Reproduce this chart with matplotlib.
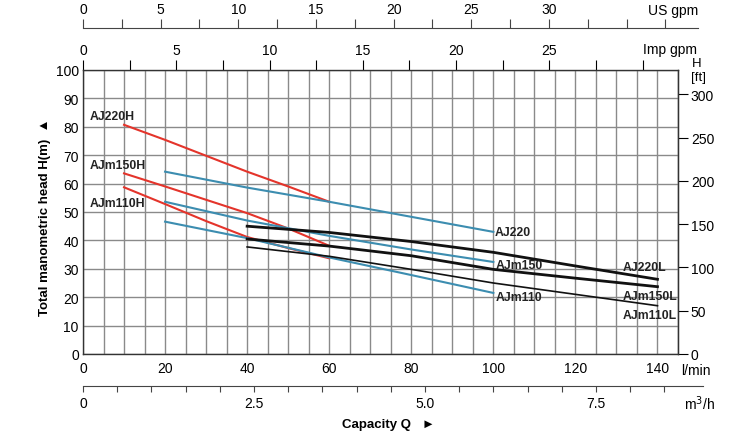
import numpy as np
import matplotlib
matplotlib.use("Agg")
import matplotlib.pyplot as plt
from matplotlib.ticker import FuncFormatter

plt.rcParams['font.family'] = ['Liberation Sans', 'DejaVu Sans']

## Curve data: capacity Q (l/min) and head H (m)
q_h = [10, 20, 30, 40, 50, 60]
aj220h = [80.7, 75.4, 69.8, 64.2, 59.0, 53.6]
ajm150h = [63.6, 59.0, 54.3, 49.6, 44.2, 38.1]
ajm110h = [58.7, 52.8, 46.8, 41.2, 37.3, 33.7]

q_mid = [20, 40, 60, 80, 100]
aj220 = [64.2, 58.6, 53.6, 48.3, 43.0]
ajm150 = [53.6, 47.0, 41.6, 36.8, 32.4]
ajm110 = [46.6, 40.8, 34.0, 27.8, 21.5]

q_l = [40, 60, 80, 100, 120, 140]
aj220l = [45.0, 42.8, 39.6, 35.8, 31.0, 26.3]
ajm150l = [40.5, 38.0, 34.6, 29.8, 26.7, 23.7]
ajm110l = [37.7, 34.4, 29.8, 25.0, 21.0, 17.0]

h_ticks = list(range(0, 101, 10))
q_labels = list(range(0, 141, 20))
ft_ticks = [0, 50, 100, 150, 200, 250, 300]
us_labels = [0, 5, 10, 15, 20, 25, 30]
imp_labels = [0, 5, 10, 15, 20, 25]
m3_labels = ["0", "2.5", "5.0", "7.5"]

RED = "#e4342b"
BLUE = "#3c8db0"
GRID = "#8a8a8a"

W, H = 738, 439
fig = plt.figure(figsize=(W / 100, H / 100), dpi=100)
PT = 72 / 100  # pixels -> points

def fx(px):
    return px / W

def fy(py):
    return 1 - py / H

## main axes: 0..145 l/min, 0..100 m
x0, x1, y0, y1 = 83, 678, 355, 71
ax = fig.add_axes([fx(x0), fy(y0), fx(x1 - x0), (y0 - y1) / H])
ax.set_xlim(0, 145)
ax.set_ylim(0, 100)
ax.set_xticks(np.arange(0, 146, 5))
ax.set_yticks(h_ticks)
ax.xaxis.set_major_formatter(FuncFormatter(lambda v, p: f"{int(v)}" if int(round(v)) in q_labels else ""))
ax.tick_params(axis='both', length=0, labelsize=10, pad=3)
ax.tick_params(axis='x', pad=5)
ax.grid(True, color=GRID, linewidth=1)
for s in ax.spines.values():
    s.set_color("#333333")
    s.set_linewidth(1)

## curves
ax.plot(q_h, aj220h, color=RED, lw=1.5)
ax.plot(q_h, ajm150h, color=RED, lw=1.5)
ax.plot(q_h, ajm110h, color=RED, lw=1.5)
ax.plot(q_mid, aj220, color=BLUE, lw=1.5)
ax.plot(q_mid, ajm150, color=BLUE, lw=1.5)
ax.plot(q_mid, ajm110, color=BLUE, lw=1.5)
ax.plot(q_l, aj220l, color="#111111", lw=2)
ax.plot(q_l, ajm150l, color="#111111", lw=2)
ax.plot(q_l, ajm110l, color="#111111", lw=1.2)

lab = dict(fontsize=8.8, fontweight='bold', va='center', ha='left', color="#222222")
ax.text(1.7, 83.8, "AJ220H", **lab)
ax.text(1.7, 66.5, "AJm150H", **lab)
ax.text(1.7, 53.2, "AJm110H", **lab)
ax.text(100.4, 43.0, "AJ220", **lab)
ax.text(100.6, 31.3, "AJm150", **lab)
ax.text(100.6, 20.0, "AJm110", **lab)
ax.text(131.4, 30.6, "AJ220L", **lab)
ax.text(131.4, 20.4, "AJm150L", **lab)
ax.text(131.4, 13.7, "AJm110L", **lab)

## right axis in feet
ft = ax.secondary_yaxis('right', functions=(lambda m: m / 0.3048, lambda f: f * 0.3048))
ft.set_yticks(ft_ticks)
ft.tick_params(length=10 * PT, labelsize=10, direction='out', pad=2)
fig.text(fx(697), fy(64), "H", fontsize=9.5, ha='center', va='center')
fig.text(fx(698), fy(78), "[ft]", fontsize=9.5, ha='center', va='center')

## Imp gpm on the top spine
imp = ax.secondary_xaxis('top', functions=(lambda q: q / 4.546, lambda g: g * 4.546))
imp.set_xticks(np.arange(0, 30.1, 2.5))
imp.xaxis.set_major_formatter(FuncFormatter(lambda v, p: f"{int(v)}" if abs(v - round(v)) < 1e-6 and int(round(v)) in imp_labels else ""))
imp.tick_params(length=10 * PT, labelsize=10, direction='out', pad=3 * PT)
imp.spines['top'].set_visible(False)
fig.text(fx(643), fy(50), "Imp gpm", fontsize=10, ha='left', va='center')

## US gpm axis
px_per_lpm = (x1 - x0) / 145
us_right = 698
ax_us = fig.add_axes([fx(x0), fy(29), fx(us_right - x0), 0.0001])
ax_us.set_xlim(0, (us_right - x0) / px_per_lpm / 3.785)
ax_us.set_ylim(0, 1)
ax_us.set_yticks([])
for k in ['left', 'right', 'bottom']:
    ax_us.spines[k].set_visible(False)
ax_us.spines['top'].set_color("#444444")
ax_us.xaxis.tick_top()
ax_us.set_xticks(np.arange(0, 37.6, 2.5))
ax_us.xaxis.set_major_formatter(FuncFormatter(lambda v, p: f"{int(v)}" if abs(v - round(v)) < 1e-6 and int(round(v)) in us_labels else ""))
ax_us.tick_params(axis='x', length=9 * PT, labelsize=10, direction='out', pad=3 * PT, color="#444444")
fig.text(fx(698), fy(11), "US gpm", fontsize=10, ha='right', va='center')

## m3/h axis
m3_right = 703
ax_m3 = fig.add_axes([fx(x0), fy(387), fx(m3_right - x0), 0.0001])
ax_m3.set_xlim(0, (m3_right - x0) / px_per_lpm * 0.06)
ax_m3.set_ylim(0, 1)
ax_m3.set_yticks([])
for k in ['left', 'right', 'top']:
    ax_m3.spines[k].set_visible(False)
ax_m3.spines['bottom'].set_color("#444444")
ax_m3.set_xticks(np.arange(0, 8.51, 0.5))
ax_m3.xaxis.set_major_formatter(FuncFormatter(lambda v, p: m3_labels[int(round(v / 2.5))] if abs(v / 2.5 - round(v / 2.5)) < 1e-6 else ""))
ax_m3.tick_params(axis='x', length=6 * PT, labelsize=10, direction='out', pad=4 * PT, color="#444444")
fig.text(fx(700), fy(404), "m$^3$/h", fontsize=10, ha='center', va='center')

fig.text(fx(696), fy(371), "l/min", fontsize=10, ha='center', va='center')

## axis titles
fig.text(fx(45), fy(217), "Total manometric head H(m)  \u25b2", rotation=90, fontsize=9.5,
         fontweight='bold', ha='center', va='center')
fig.text(fx(388), fy(425), "Capacity Q   \u25ba", fontsize=9.5, fontweight='bold',
         ha='center', va='center')

fig.savefig("out.png", dpi=100)
